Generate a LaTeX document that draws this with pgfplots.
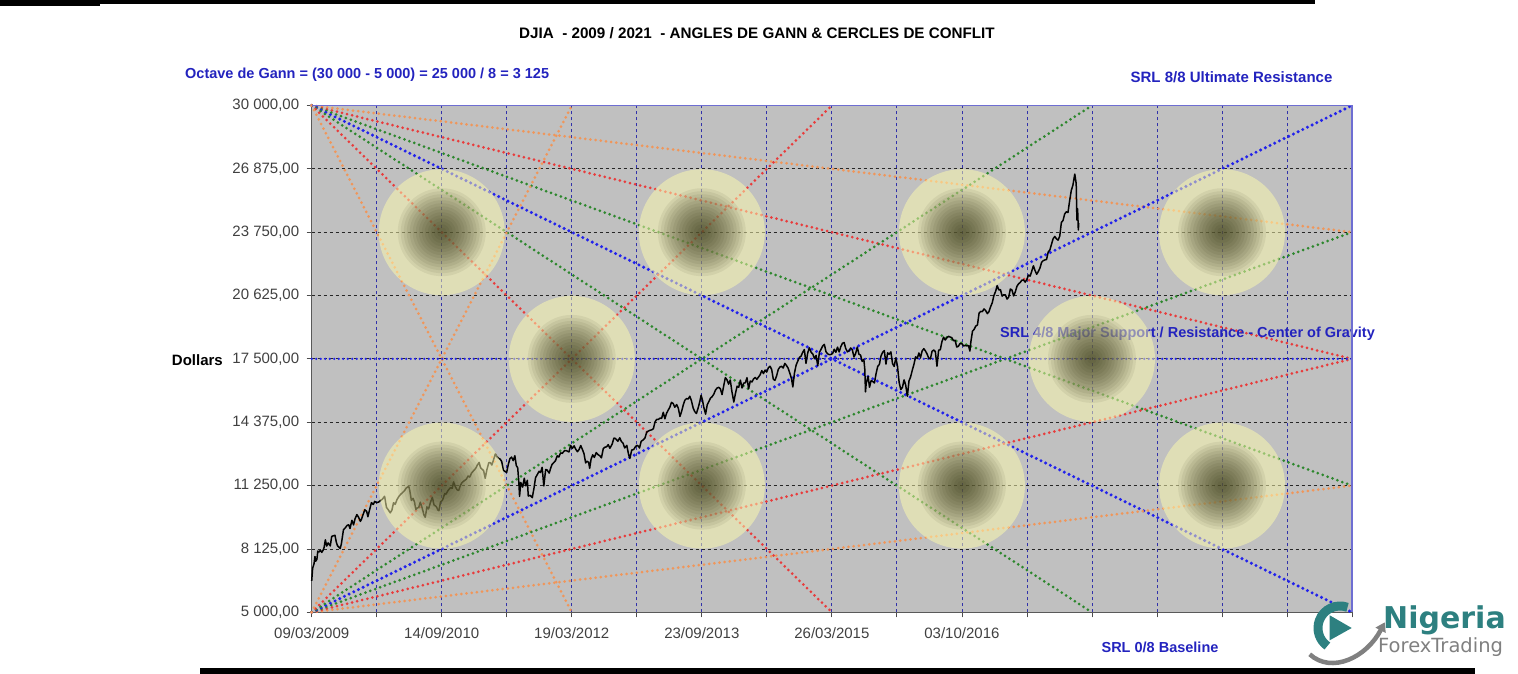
\documentclass[border=0pt]{standalone}
\usepackage{pgfplots}
\usepackage{pgfplotstable}
\pgfplotsset{compat=1.18}
\usepackage{fontspec}
\setmainfont{Liberation Sans}
\newfontfamily\logofont{DejaVu Sans}
\usetikzlibrary{arrows.meta}
\definecolor{gorange}{RGB}{240,150,90}
\definecolor{gred}{RGB}{232,60,60}
\definecolor{ggreen}{RGB}{45,135,45}
\definecolor{gblue}{RGB}{35,35,235}
\definecolor{plotbg}{RGB}{192,192,192}
\definecolor{cdark}{RGB}{35,35,5}
\definecolor{cpale}{RGB}{255,252,174}
\definecolor{srlblue}{RGB}{35,35,190}
\definecolor{gridblue}{RGB}{50,50,170}
\definecolor{logoteal}{RGB}{45,128,128}
\pgfdeclareplotmark{disc}{\pgfpathcircle{\pgfpointorigin}{\pgfplotmarksize}\pgfusepathqfill}
\tikzset{fan/.style={line width=3bp, dash pattern=on 0bp off 5.2bp, line cap=round}}
\pgfplotstableread{
x y
553 23750
1659 23750
2765 23750
3871 23750
1106 17500
3318 17500
553 11250
1659 11250
2765 11250
3871 11250
}\circles
\begin{document}
\begin{tikzpicture}
\begin{axis}[
  at={(0,0)}, anchor=south west,
  scale only axis, width=1040.3bp, height=506.8bp,
  xmin=0, xmax=4424, ymin=5000, ymax=30000,
  clip=false, scaled ticks=false,
  axis background/.style={fill=plotbg},
  xtick={0,276.5,553,829.5,1106,1382.5,1659,1935.5,2212,2488.5,2765,3041.5,3318,3594.5,3871,4147.5,4424},
  xticklabels={09/03/2009,,14/09/2010,,19/03/2012,,23/09/2013,,26/03/2015,,03/10/2016,,,,,,},
  ytick={5000,8125,11250,14375,17500,20625,23750,26875,30000},
  yticklabels={{5 000,00},{8 125,00},{11 250,00},{14 375,00},{17 500,00},{20 625,00},{23 750,00},{26 875,00},{30 000,00}},
  xtick pos=bottom, ytick pos=left,
  tick align=outside, major tick length=5bp,
  tick style={black!70, line width=0.8bp},
  grid=major,
  x grid style={gridblue, line width=0.8bp, dash pattern=on 3bp off 3bp},
  y grid style={black!85, line width=0.8bp, dash pattern=on 3bp off 3bp},
  axis line style={draw=black!65, line width=1.2bp},
  ticklabel style={font=\fontsize{15bp}{17bp}\selectfont, text=black!75},
  xticklabel style={yshift=-7bp},
  yticklabel style={xshift=-4bp},
]
% Gann fans from top-left
\addplot[fan, gorange] coordinates {(0,30000) (4424,23750)};
\addplot[fan, gred] coordinates {(0,30000) (4424,17500)};
\addplot[fan, ggreen] coordinates {(0,30000) (4424,11250)};
\addplot[fan, gblue, line width=3.4bp] coordinates {(0,30000) (4424,5000)};
\addplot[fan, ggreen] coordinates {(0,30000) (3318,5000)};
\addplot[fan, gred] coordinates {(0,30000) (2212,5000)};
\addplot[fan, gorange] coordinates {(0,30000) (1106,5000)};
% Gann fans from bottom-left
\addplot[fan, gorange] coordinates {(0,5000) (4424,11250)};
\addplot[fan, gred] coordinates {(0,5000) (4424,17500)};
\addplot[fan, ggreen] coordinates {(0,5000) (4424,23750)};
\addplot[fan, gblue, line width=3.4bp] coordinates {(0,5000) (4424,30000)};
\addplot[fan, ggreen] coordinates {(0,5000) (3318,30000)};
\addplot[fan, gred] coordinates {(0,5000) (2212,30000)};
\addplot[fan, gorange] coordinates {(0,5000) (1106,30000)};
% SRL 4/8
\addplot[fan, gblue, line width=2.6bp, dash pattern=on 0bp off 4.5bp] coordinates {(0,17500) (4424,17500)};
% DJIA
\addplot[black, line width=1.5bp, line join=round] coordinates {
(0,6547)(4,7170)(10,7400)(14,7750)(17,7520)(22,7610)(26,8017)(31,7975)(37,8057)(43,7957)(49,8076)(53,8212)(58,8575)(64,8268)(70,8422)(79,8277)(85,8740)(91,8770)(99,8800)(105,8440)(110,8280)(121,8146)(126,8360)(135,9070)(143,9171)(150,9280)(157,9320)(163,9135)(171,9540)(178,9310)(184,9600)(192,9820)(199,9700)(207,9487)(212,9599)(220,9870)(226,10062)(234,9972)(239,9713)(245,10005)(254,10406)(262,10318)(268,10471)(276,10405)(285,10441)(293,10520)(300,10572)(310,10725)(318,10172)(325,10067)(334,9908)(341,10038)(348,10402)(355,10325)(363,10567)(372,10741)(380,10836)(388,10927)(395,11005)(403,11144)(413,11205)(417,11008)(424,10520)(431,10620)(437,10444)(443,10069)(448,10137)(455,10172)(462,10434)(470,10138)(478,9774)(483,9686)(490,10198)(497,10097)(505,10424)(513,10674)(520,10303)(530,10213)(537,10040)(541,10015)(548,10448)(556,10526)(566,10860)(571,10829)(580,11010)(590,11146)(598,11118)(603,11434)(611,11192)(618,11045)(625,11006)(632,11255)(640,11410)(650,11499)(658,11573)(665,11722)(672,11671)(680,11871)(688,11980)(697,12092)(705,12273)(712,12391)(718,12130)(724,12066)(731,11993)(738,11613)(745,12036)(753,12376)(760,12380)(766,12263)(772,12479)(781,12810)(787,12684)(795,12596)(802,12548)(808,12441)(815,12004)(822,11952)(829,11897)(836,12290)(843,12582)(850,12657)(857,12480)(864,12724)(870,12240)(876,12130)(881,11384)(884,10720)(889,11405)(897,11177)(904,11613)(910,11240)(917,11509)(921,10733)(929,10771)(938,10655)(945,11103)(952,11644)(960,11808)(967,11955)(973,11893)(980,12154)(987,11231)(995,12046)(1001,12020)(1010,11866)(1016,12103)(1022,12292)(1030,12392)(1037,12482)(1044,12720)(1051,12660)(1058,12862)(1066,12845)(1073,12949)(1080,12983)(1087,12952)(1094,12907)(1101,13233)(1108,13081)(1116,13212)(1122,13059)(1130,12921)(1137,13029)(1144,13228)(1151,13038)(1158,12821)(1165,12369)(1170,12454)(1178,12393)(1182,12101)(1188,12554)(1195,12767)(1202,12640)(1210,12880)(1218,12772)(1225,12727)(1232,12617)(1240,13076)(1246,13139)(1254,13164)(1261,13271)(1268,13091)(1278,13306)(1285,13593)(1291,13579)(1302,13437)(1310,13610)(1317,13424)(1324,13345)(1331,13108)(1340,13232)(1347,12815)(1353,12588)(1361,13010)(1369,13026)(1376,13155)(1383,13235)(1390,13190)(1394,13104)(1401,13435)(1410,13507)(1417,13596)(1425,13895)(1432,13944)(1439,13981)(1446,14000)(1453,14054)(1460,14397)(1467,14514)(1474,14512)(1481,14578)(1488,14565)(1495,14865)(1502,14547)(1509,14818)(1516,14973)(1523,15118)(1530,15354)(1537,15303)(1544,15116)(1552,15248)(1559,15070)(1566,14660)(1573,14910)(1580,15225)(1587,15464)(1594,15543)(1601,15521)(1608,15658)(1615,15425)(1622,15081)(1629,14897)(1636,14810)(1643,15063)(1650,15376)(1656,15709)(1662,15451)(1667,15129)(1675,14776)(1682,15237)(1689,15399)(1696,15570)(1703,15639)(1710,15761)(1717,15962)(1724,16064)(1731,16097)(1738,16020)(1745,15739)(1752,16167)(1759,16577)(1766,16469)(1773,16257)(1780,16458)(1787,15879)(1790,15699)(1795,15373)(1802,15794)(1809,16154)(1816,16103)(1823,16452)(1830,16065)(1837,16302)(1844,16323)(1851,16573)(1858,16027)(1865,16408)(1872,16361)(1879,16512)(1886,16583)(1893,16491)(1900,16606)(1907,16717)(1914,16924)(1921,16776)(1928,16947)(1935,16851)(1942,17068)(1949,17138)(1956,16982)(1963,16493)(1970,16443)(1977,16663)(1984,16979)(1991,17098)(1998,17138)(2005,17050)(2012,17279)(2019,17173)(2026,17044)(2033,16801)(2040,16544)(2046,16117)(2053,16805)(2060,17195)(2067,17390)(2074,17573)(2081,17634)(2088,17828)(2095,17958)(2102,17280)(2109,17778)(2116,18053)(2124,17823)(2131,17737)(2138,17511)(2145,17672)(2152,17164)(2159,17824)(2166,17973)(2173,18140)(2180,18214)(2187,17856)(2194,17749)(2201,17712)(2208,17718)(2215,17763)(2222,17977)(2229,17826)(2236,18080)(2243,17841)(2250,18105)(2257,18272)(2264,18312)(2271,18011)(2278,17849)(2285,17898)(2292,18039)(2299,17947)(2306,17596)(2313,17761)(2320,18086)(2327,17731)(2334,17690)(2341,17373)(2348,17477)(2352,16990)(2355,15871)(2358,16285)(2366,16643)(2372,16103)(2379,16433)(2386,16384)(2393,16314)(2400,16776)(2407,17131)(2414,17230)(2421,17646)(2428,17828)(2435,17910)(2442,17245)(2449,17798)(2456,17730)(2463,17847)(2470,17265)(2477,17128)(2484,17552)(2491,17148)(2498,16346)(2505,15988)(2512,16093)(2519,16466)(2526,16205)(2533,15660)(2540,16413)(2547,16620)(2554,16944)(2561,17229)(2568,17602)(2575,17515)(2582,17792)(2589,17576)(2596,17897)(2603,18003)(2610,17891)(2617,17740)(2624,17535)(2631,17500)(2638,17873)(2645,17938)(2652,17865)(2659,17140)(2666,17930)(2673,17949)(2680,18347)(2687,18570)(2694,18432)(2701,18543)(2708,18613)(2715,18576)(2722,18552)(2729,18395)(2736,18419)(2743,18085)(2750,18124)(2757,18261)(2765,18253)(2772,18138)(2779,18162)(2786,18145)(2793,18161)(2799,17888)(2803,18332)(2810,18867)(2817,18956)(2824,19123)(2831,19170)(2838,19757)(2845,19843)(2852,19833)(2859,19963)(2866,19885)(2873,19732)(2880,19827)(2887,20071)(2894,20270)(2901,20624)(2908,20821)(2915,21115)(2922,20903)(2929,20914)(2936,20596)(2943,20663)(2950,20656)(2957,20453)(2964,20548)(2971,20949)(2978,20896)(2985,20606)(2992,20804)(2999,21080)(3006,21206)(3013,21271)(3020,21384)(3027,21394)(3034,21287)(3041,21414)(3048,21637)(3055,21580)(3062,21830)(3069,22092)(3076,21858)(3083,21674)(3090,21813)(3097,21987)(3104,22268)(3111,22349)(3118,22381)(3125,22405)(3132,22773)(3139,22872)(3146,23157)(3153,23434)(3160,23539)(3167,23422)(3174,23358)(3181,23557)(3188,24231)(3195,24329)(3202,24651)(3209,24754)(3216,24719)(3223,25295)(3230,25803)(3237,26071)(3245,26617)(3251,26149)(3254,24346)(3257,24912)(3260,23860)(3262,24190)
};
% SRL 4/8 label (under the circles)
\node[anchor=west, text=srlblue, font=\bfseries\fontsize{14.5bp}{16bp}\selectfont, inner sep=0pt] at (axis cs:2927,18763) {SRL 4/8 Major Support / Resistance - Center of Gravity};
% conflict circles: pale disc and stacked dark discs
\addplot[only marks, mark=disc, mark size=63bp, cpale, mark options={fill=cpale, fill opacity=0.5}] table {\circles};
\pgfplotsinvokeforeach{44,41,38,35,32,29,26,23,20,17,14,11,8,5}{
\addplot[only marks, mark=disc, mark size=#1bp, cdark, mark options={fill=cdark, fill opacity=0.066}] table {\circles};
}
\draw[draw={rgb,255:red,110;green,110;blue,210}, line width=1.2bp] (rel axis cs:0,1) -- (rel axis cs:1,1) -- (rel axis cs:1,0);
\end{axis}
% texts outside
\node[font=\bfseries\fontsize{15.2bp}{17bp}\selectfont] at (445.3bp,579.3bp) {DJIA \ - 2009 / 2021 \ - ANGLES DE GANN \& CERCLES DE CONFLIT};
\node[anchor=west, inner sep=0pt, text=srlblue, font=\bfseries\fontsize{14.5bp}{16bp}\selectfont] at (-126.7bp,537.3bp) {Octave de Gann = (30 000 - 5 000) = 25 000 / 8 = 3 125};
\node[inner sep=0pt, text=srlblue, font=\bfseries\fontsize{15bp}{16bp}\selectfont] at (919.8bp,535.3bp) {SRL 8/8 Ultimate Resistance};
\node[inner sep=0pt, text=srlblue, font=\bfseries\fontsize{14.5bp}{16bp}\selectfont] at (848.3bp,-34.7bp) {SRL 0/8 Baseline};
\node[anchor=east, inner sep=0pt, font=\bfseries\fontsize{15bp}{17bp}\selectfont] at (-88.7bp,252.3bp) {Dollars};
% logo
\draw[logoteal, line width=9bp] (1028.3bp,-15.7bp) ++(70:22bp) arc[start angle=70, end angle=235, radius=22bp];
\fill[logoteal] (1018bp,-3bp) -- (1018bp,-28bp) -- (1040bp,-15.7bp) -- cycle;
\draw[gray, line width=4.5bp, -{Triangle[length=9bp,width=11bp]}] (998bp,-42bp) .. controls (1020bp,-62bp) and (1055bp,-45bp) .. (1073bp,-10bp);
\node[anchor=base west, inner sep=0pt, text=logoteal, font=\logofont\bfseries\fontsize{30bp}{32bp}\selectfont] at (1071.3bp,-15.7bp) {Nigeria};
\node[anchor=base west, inner sep=0pt, text=gray, font=\logofont\fontsize{19.5bp}{21bp}\selectfont] at (1066.3bp,-39.7bp) {ForexTrading};
% frame bars
\fill[black] (-311.7bp,612.3bp) rectangle (1003.3bp,608.5bp);
\fill[black] (-311.7bp,612.3bp) rectangle (-211.7bp,606.3bp);
\fill[black] (-111.7bp,-56bp) rectangle (1163.3bp,-61.7bp);
\pgfresetboundingbox
\path (-311.7bp,-61.7bp) rectangle (1206.3bp,612.3bp);
\end{tikzpicture}
\end{document}
